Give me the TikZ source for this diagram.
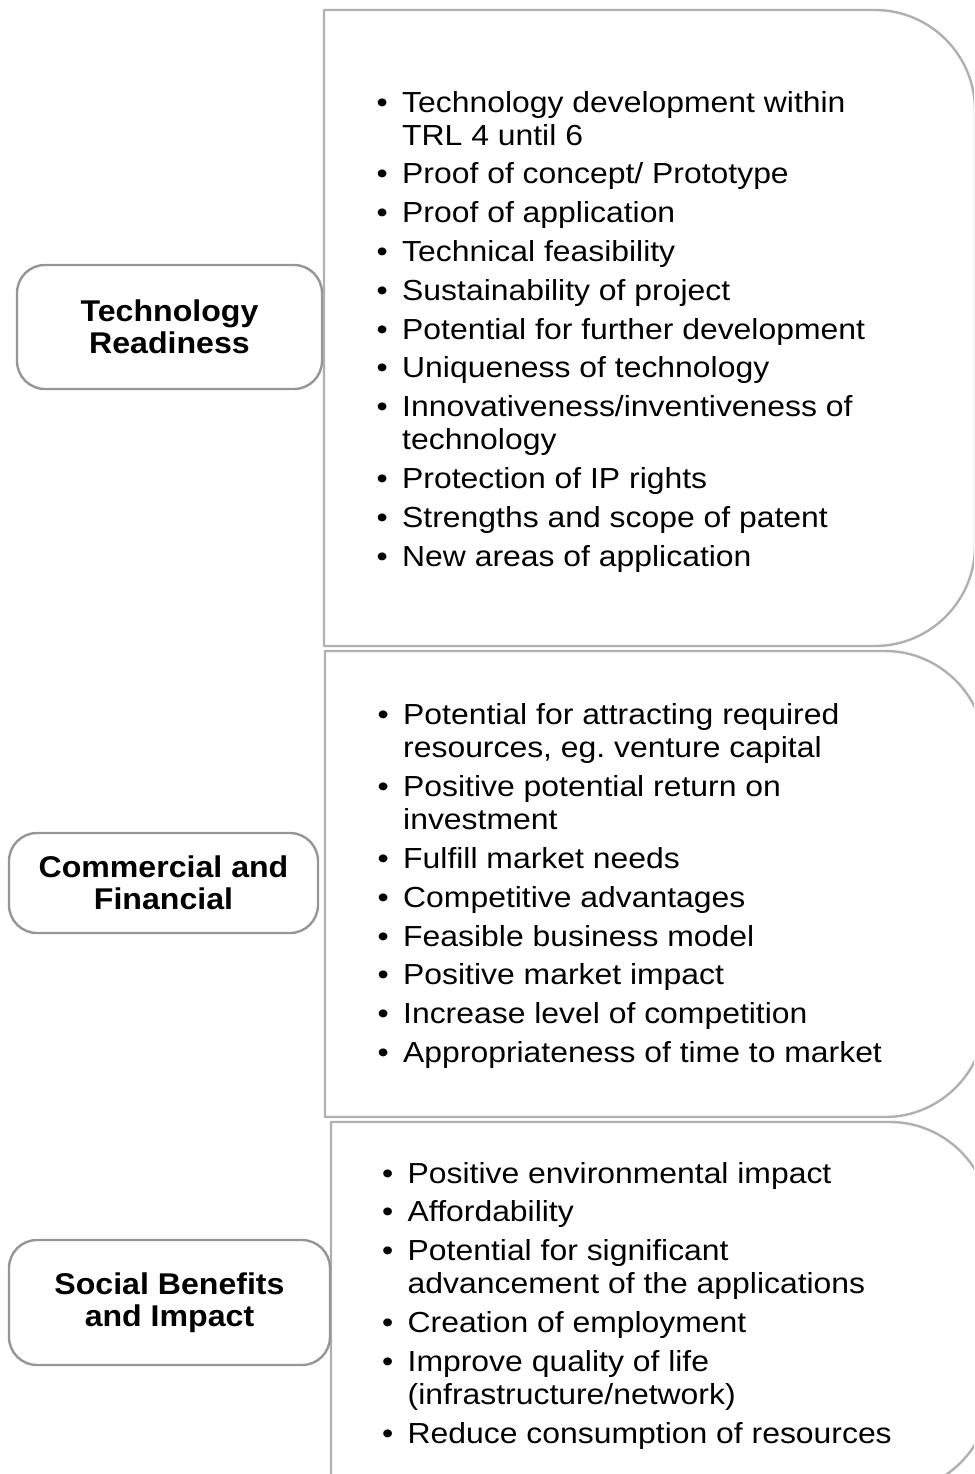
\documentclass[tikz,border=0pt]{standalone}
\usepackage{fontspec}
\setmainfont{Liberation Sans}
\newfontfamily\bodyfont{Liberation Sans}[FakeStretch=1.10]
\newfontfamily\lblfont{Liberation Sans}[FakeStretch=1.07]
\usetikzlibrary{positioning}
\frenchspacing
\definecolor{panelgray}{RGB}{176,176,176}
\definecolor{lblgray}{RGB}{150,150,150}
\newcommand{\itm}{\makebox[25.5pt][l]{\textbullet}}
\newcommand{\cnt}{\hspace*{25.5pt}}
\tikzset{
  panel/.style={draw=panelgray, line width=2.4pt, line join=round},
  lbl/.style={rectangle, rounded corners=28pt, draw=lblgray, line width=2.4pt, align=center, inner sep=0pt,
    font=\lblfont\fontsize{30}{32}\selectfont\bfseries},
  lst/.style={align=left, inner sep=0pt, anchor=base west, font=\bodyfont\fontsize{29}{33}\selectfont}
}
\begin{document}
\begin{tikzpicture}[x=1pt,y=-1pt]
	\useasboundingbox (0,0) rectangle (974,1474);
	\clip (0,0) rectangle (974,1474);

	% the three panels
	\draw[panel] (324,646) -- (324,10) -- (875,10) .. controls (930,10) and (975,55) .. (975,110)
		-- (975,546) .. controls (975,601) and (930,646) .. (875,646) -- cycle;
	\draw[panel] (325,1117) -- (325,651) -- (885,651) .. controls (940,651) and (985,696) .. (985,751)
		-- (985,1017) .. controls (985,1072) and (940,1117) .. (885,1117) -- cycle;
	\draw[panel] (331,1500) -- (331,1122) -- (890,1122) .. controls (945,1122) and (990,1167) .. (990,1222)
		-- (990,1392) .. controls (990,1447) and (945,1492) .. (890,1492) -- (331,1492);

	% labels
	\node[lbl, minimum width=305pt, minimum height=124pt] (tech) at (169.5,327) {Technology\\Readiness};
	\node[lbl, minimum width=309pt, minimum height=100pt] (comm) at (163.5,883) {Commercial and\\Financial};
	\node[lbl, minimum width=321pt, minimum height=125pt] (soc) at (169.5,1302.5) {Social Benefits\\and Impact};

	% lists (placed at the baseline of their last line)
	\node[lst] (techlist) at (376.5,566) {%
		\itm Technology development within\\ \cnt TRL 4 until 6\\[5.8pt]
		\itm Proof of concept/ Prototype\\[5.8pt]
		\itm Proof of application\\[5.8pt]
		\itm Technical feasibility\\[5.8pt]
		\itm Sustainability of project\\[5.8pt]
		\itm Potential for further development\\[5.8pt]
		\itm Uniqueness of technology\\[5.8pt]
		\itm Innovativeness/inventiveness of\\ \cnt technology\\[5.8pt]
		\itm Protection of IP rights\\[5.8pt]
		\itm Strengths and scope of patent\\[5.8pt]
		\itm New areas of application};
	\node[lst] (commlist) at (377.5,1062.5) {%
		\itm Potential for attracting required\\ \cnt resources, eg.\ venture capital\\[5.8pt]
		\itm Positive potential return on\\ \cnt investment\\[5.8pt]
		\itm Fulfill market needs\\[5.8pt]
		\itm Competitive advantages\\[5.8pt]
		\itm Feasible business model\\[5.8pt]
		\itm Positive market impact\\[5.8pt]
		\itm Increase level of competition\\[5.8pt]
		\itm Appropriateness of time to market};
	\node[lst] (soclist) at (382,1443) {%
		\itm Positive environmental impact\\[5.8pt]
		\itm Affordability\\[5.8pt]
		\itm Potential for significant\\ \cnt advancement of the applications\\[5.8pt]
		\itm Creation of employment\\[5.8pt]
		\itm Improve quality of life\\ \cnt (infrastructure/network)\\[5.8pt]
		\itm Reduce consumption of resources};
\end{tikzpicture}
\end{document}
